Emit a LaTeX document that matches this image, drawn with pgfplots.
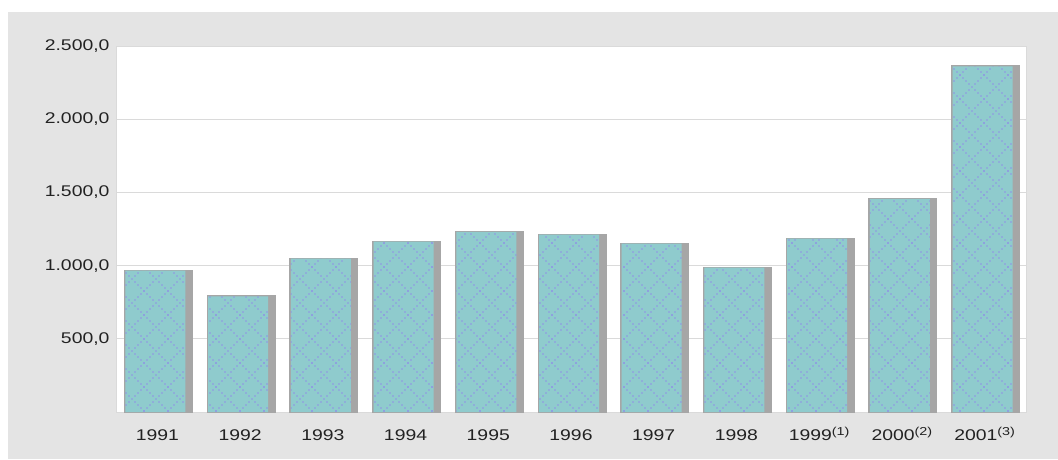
\documentclass[border=0pt]{standalone}
\usepackage{fontspec}
\setmainfont{Liberation Sans}[FakeStretch=1.25]
\usepackage{pgfplots}
\pgfplotsset{compat=1.18}
\usetikzlibrary{patterns}
\definecolor{panel}{HTML}{E4E4E4}
\definecolor{teal1}{HTML}{8FCBCD}
\definecolor{shadow}{HTML}{A6A6A6}
\definecolor{lav}{HTML}{8F92E6}
\definecolor{gridc}{HTML}{DADADA}
\definecolor{txt}{HTML}{222222}
\pgfdeclarepatternformonly{octdots}{\pgfpoint{-1pt}{-1pt}}{\pgfpoint{25pt}{25pt}}{\pgfpoint{24pt}{24pt}}{%
  \foreach \i in {0,3,...,21}{%
    \pgfpathcircle{\pgfpoint{\i pt}{\i pt}}{0.85pt}%
    \pgfpathcircle{\pgfpoint{\i pt}{24pt-\i pt}}{0.85pt}%
  }%
  \pgfusepath{fill}%
}
\newcommand{\noteup}[1]{\raisebox{5pt}{\fontsize{11.5}{11.5}\selectfont(#1)}}
\pgfplotstableread{
x y
0 966
1 789
2 1048
3 1163
4 1231
5 1211
6 1150
7 986
8 1184
9 1456
10 2361
}\datatable
\begin{document}
\begin{tikzpicture}[x=1pt,y=1pt]
\fill[white] (0,0) rectangle (1058,459);
\fill[panel] (8,0) rectangle (1058,447);
\begin{axis}[
  at={(116pt,47pt)}, anchor=south west,
  width=910pt, height=366pt, scale only axis,
  xmin=-0.5, xmax=10.5, ymin=0, ymax=2500,
  axis background/.style={fill=white},
  axis line style={draw=gridc, line width=1pt},
  ymajorgrids, grid style={draw=gridc, line width=1pt},
  major tick length=0pt,
  xtick={0,...,10},
  xticklabels={1991,1992,1993,1994,1995,1996,1997,1998,
    1999\noteup{1},2000\noteup{2},2001\noteup{3}},
  ytick={500,1000,1500,2000,2500},
  yticklabels={500{,}0,1.000{,}0,1.500{,}0,2.000{,}0,2.500{,}0},
  tick label style={font=\fontsize{15.5}{15.5}\selectfont, text=txt},
  yticklabel style={xshift=-3pt},
  xticklabel style={yshift=-14pt, text height=11pt},
  clip=false,
]
\addplot[ybar, bar shift=1pt, bar width=67pt, fill=shadow, draw=shadow, line width=2pt] table[x=x,y=y] {\datatable};
\addplot[ybar, bar shift=-2pt, bar width=60pt, fill=teal1, draw=none] table[x=x,y=y] {\datatable};
\addplot[ybar, bar shift=-2pt, bar width=60pt, draw=none, pattern=octdots, pattern color=lav] table[x=x,y=y] {\datatable};
\end{axis}
\end{tikzpicture}
\end{document}
